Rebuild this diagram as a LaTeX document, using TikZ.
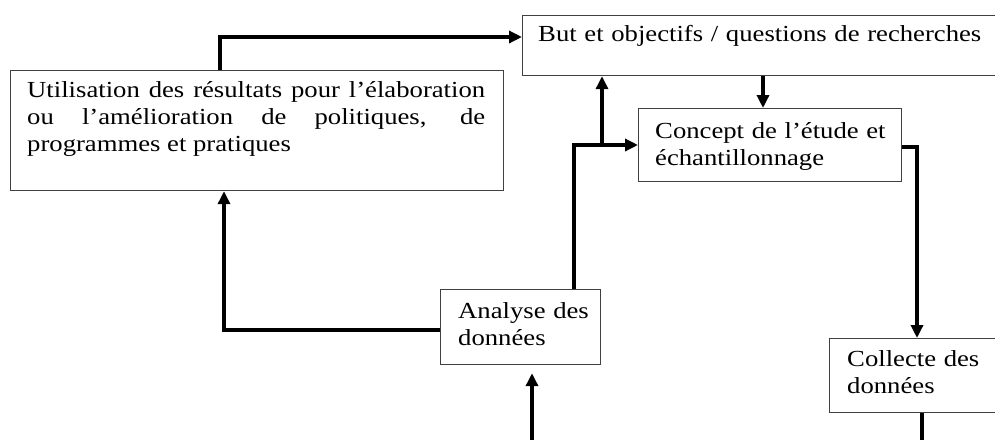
\documentclass[tikz,border=0pt]{standalone}
\usepackage{fontspec}
\setmainfont{Liberation Serif}[FakeStretch=1.16]
\usetikzlibrary{arrows.meta}
\begin{document}
\begin{tikzpicture}[x=1pt,y=-1pt,
  box/.style={draw=black!75,line width=1.2pt,rectangle,inner sep=0pt,anchor=north west},
  txt/.style={inner sep=0pt,anchor=base west,align=left,text width=300pt,font=\fontsize{23}{27}\selectfont},
  arr/.style={line width=3.6pt,line join=miter,-{Triangle[length=13pt,width=12pt]}},
  ln/.style={line width=3.6pt,line join=miter}]
\useasboundingbox (0,0) rectangle (995,439);
\clip (0,0) rectangle (995,439);
% boxes
\node[box,minimum width=493pt,minimum height=120pt] (util) at (10,70) {};
\node[box,minimum width=480pt,minimum height=60pt] (but) at (522,15) {};
\node[box,minimum width=263pt,minimum height=73pt] (conc) at (638,108) {};
\node[box,minimum width=160pt,minimum height=75pt] (ana) at (440,289) {};
\node[box,minimum width=175pt,minimum height=74pt] (col) at (829,338) {};
% texts
\node[txt,text width=458pt,align=justify] (utilt) at (27,97.5)
  {\makebox[458pt][s]{Utilisation des résultats pour l’élaboration}\\
   \makebox[458pt][s]{ou l’amélioration de politiques, de}\\
   programmes et pratiques};
\node[txt,text width=450pt] (butt) at (538,41.5) {But et objectifs / questions de recherches};
\node[txt,text width=240pt] (conct) at (655,138.3) {Concept de l’étude et\\échantillonnage};
\node[txt,text width=140pt] (anat) at (458,318) {Analyse des\\données};
\node[txt,text width=140pt] (colt) at (847,366.5) {Collecte des\\données};
% routing coordinates
\coordinate (k1) at (220,37);
\coordinate (k2) at (763,0);
\coordinate (k3) at (574,145);
\coordinate (k4) at (602,145);
\coordinate (k5) at (917,147);
\coordinate (k6) at (224,330);
\coordinate (in) at (532,445);
\coordinate (out) at (922,445);
% connectors
\draw[arr] (util.north -| k1) |- (but.west |- k1);
\draw[arr] (but.south -| k2) -- (conc.north -| k2);
\draw[arr] (ana.north -| k3) |- (conc.west |- k3);
\draw[arr] (k4) -- (but.south -| k4);
\draw[arr] (conc.east |- k5) -| (col.north -| k5);
\draw[arr] (ana.west |- k6) -| (util.south -| k6);
\draw[arr,shorten >=8pt] (in) -- (ana.south -| in);
\draw[ln] (col.south -| out) -- (out);
\end{tikzpicture}
\end{document}
